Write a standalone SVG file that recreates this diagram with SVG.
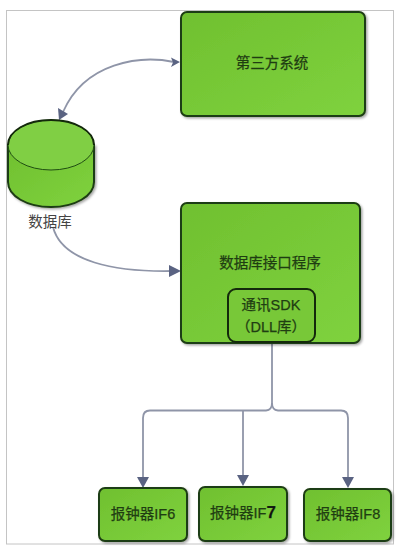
<svg xmlns="http://www.w3.org/2000/svg" width="404" height="552" viewBox="0 0 404 552">
<style>
.n{fill:url(#g);stroke:#1f3d12;stroke-width:2;filter:url(#s)}
.t{font-family:"Liberation Sans","Noto Sans CJK SC",sans-serif;font-size:14.500px;fill:#1f3d12;stroke:#1f3d12;stroke-width:.25;text-anchor:middle}
.c{fill:none;stroke:#8f95a8;stroke-width:1.800}
.a{fill:#5a6382}
</style>
<defs>
<linearGradient id="g" x1="0" y1="0" x2="1" y2="1"><stop offset="0" stop-color="#70c030"/><stop offset="1" stop-color="#7fd23e"/></linearGradient>
<filter id="s" x="-10%" y="-10%" width="125%" height="125%"><feDropShadow dx="1.500" dy="1.500" stdDeviation="1" flood-color="#000" flood-opacity=".35"/></filter>
</defs>
<rect width="404" height="552" fill="#fff"/>
<rect x="6.500" y="10.500" width="387" height="533.500" fill="none" stroke="#c4c4c4"/>
<g id="connectors">
<path class="c" d="M174 62C140 55 85 62 63 112"/>
<path class="a" d="M180 62L171 57.500L173 62.500L171 67Z"/>
<path class="a" d="M59 120L58 108L68 114Z"/>
<path class="c" d="M53 227C62 262 115 272 172 271"/>
<path class="a" d="M181 271L169 265V277Z"/>
<path class="c" d="M272 343V403Q272 410 266 410.500H150Q143 410.500 143 418V478"/>
<path class="c" d="M272 403Q272 410 278 410.500H341Q348 410.500 348 418V478"/>
<path class="c" d="M243 411V476"/>
<path class="a" d="M143 488L137 477H149Z"/>
<path class="a" d="M243 486L237 475H249Z"/>
<path class="a" d="M348 488L342 477H354Z"/>
</g>
<g id="third-party">
<rect class="n" x="181" y="12" width="184" height="104" rx="6"/>
<text class="t" x="272" y="68">第三方系统</text>
</g>
<g id="database">
<path class="n" d="M8 145V182C8 196 27 207 51 207S94 196 94 182V145Z"/>
<ellipse cx="51" cy="145" rx="43" ry="25" fill="#80cf44" stroke="#1f4d12" stroke-width="1"/>
<path d="M8 145C8 131 27 120 51 120S94 131 94 145" fill="none" stroke="#14290c" stroke-width="2"/>
<text x="50" y="227" font-size="14.500" text-anchor="middle" fill="#444" font-family="Liberation Sans,Noto Sans CJK SC,sans-serif">数据库</text>
</g>
<g id="interface">
<rect class="n" x="181" y="203" width="179" height="140" rx="6"/>
<text class="t" x="270" y="268">数据库接口程序</text>
</g>
<g id="sdk">
<rect x="228" y="289" width="87" height="53" rx="8" fill="#78c838" stroke="#14290c" stroke-width="2"/>
<text class="t" x="271" y="310">通讯SDK</text>
<text class="t" x="271" y="332">（DLL库）</text>
</g>
<g id="if6">
<rect class="n" x="99" y="488" width="88" height="53" rx="6"/>
<text class="t" x="143" y="519">报钟器IF6</text>
</g>
<g id="if7">
<rect class="n" x="199" y="487" width="88" height="54" rx="6"/>
<text class="t" x="243" y="518">报钟器IF<tspan font-weight="bold" font-size="17" fill="#111">7</tspan></text>
</g>
<g id="if8">
<rect class="n" x="304" y="489" width="87" height="52" rx="6"/>
<text class="t" x="348" y="519">报钟器IF8</text>
</g>
</svg>
